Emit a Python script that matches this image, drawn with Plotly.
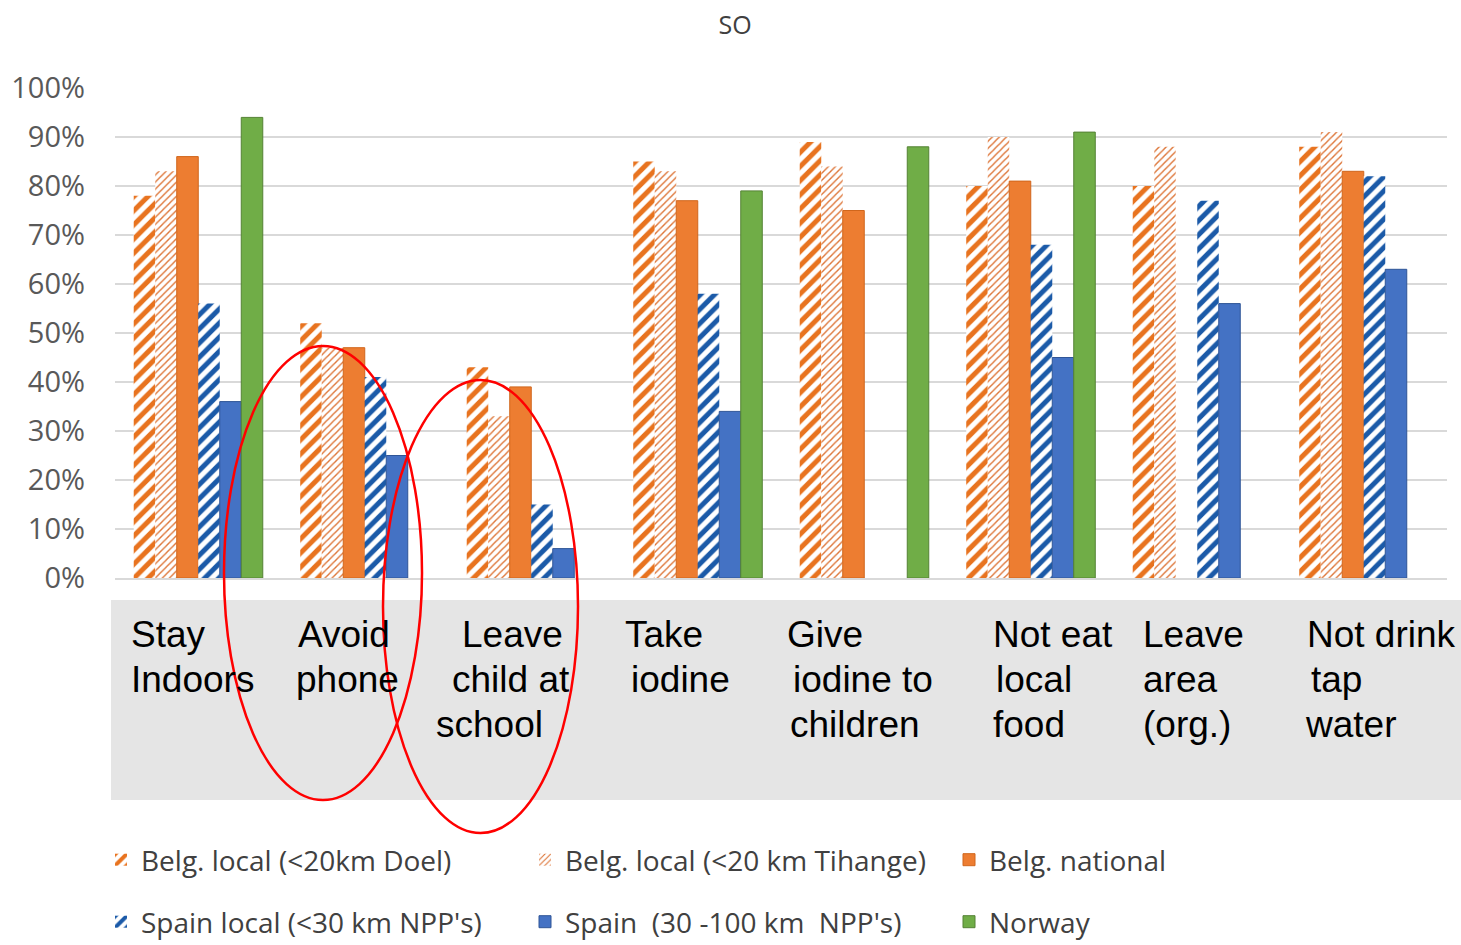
import plotly.graph_objects as go

# Category labels, broken into the lines shown under the axis
label_lines = [
    ["Stay", "Indoors"],
    ["Avoid", "phone"],
    ["Leave", "child at", "school"],
    ["Take", "iodine"],
    ["Give", "iodine to", "children"],
    ["Not eat", "local", "food"],
    ["Leave", "area", "(org.)"],
    ["Not drink", "tap", "water"],
]
categories = [" ".join(lines) for lines in label_lines]

# Share of respondents (%) per protective action
belg_doel = [78, 52, 43, 85, 89, 80, 80, 88]
belg_tihange = [83, 47, 33, 83, 84, 90, 88, 91]
belg_national = [86, 47, 39, 77, 75, 81, None, 83]
spain_local = [56, 41, 15, 58, None, 68, 77, 82]
spain_wide = [36, 25, 6, 34, None, 45, 56, 63]
norway = [94, None, None, 79, 88, 91, None, None]

series_names = [
    "Belg. local (<20km Doel)",
    "Belg. local (<20 km Tihange)",
    "Belg. national",
    "Spain local (<30 km NPP's)",
    "Spain  (30 -100 km  NPP's)",
    "Norway",
]
y_ticks = list(range(0, 101, 10))

# ---- page geometry (pixels) ----
W, H = 1461, 945
ML, MR, MT, MB = 115, 14, 88, 367
PW, PH = W - ML - MR, H - MT - MB


def px(x):
    return (x - ML) / PW


def py(y):
    return (H - MB - y) / PH


ORANGE = "#ED7D31"
BLUE = "#4472C4"
GREEN = "#70AD47"


def hatch(color, size, solidity):
    return dict(shape="/", fgcolor=color, fgopacity=1, bgcolor="white",
                size=size, solidity=solidity, fillmode="replace")


fig = go.Figure()

fig.add_trace(go.Bar(
    name=series_names[0], x=categories, y=belg_doel, legend="legend",
    marker=dict(color="#E8731F", line=dict(width=0),
                pattern=hatch("#E8731F", 10, 0.5)),
))
fig.add_trace(go.Bar(
    name=series_names[1], x=categories, y=belg_tihange, legend="legend",
    marker=dict(color="#DD7436", line=dict(width=0),
                pattern=hatch("#DD7436", 5, 0.28)),
))
fig.add_trace(go.Bar(
    name=series_names[2], x=categories, y=belg_national, legend="legend",
    marker=dict(color=ORANGE, line=dict(color="#D0661C", width=1)),
))
fig.add_trace(go.Bar(
    name=series_names[3], x=categories, y=spain_local, legend="legend2",
    marker=dict(color="#1B5AA8", line=dict(width=0),
                pattern=hatch("#1B5AA8", 10, 0.5)),
))
fig.add_trace(go.Bar(
    name=series_names[4], x=categories, y=spain_wide, legend="legend2",
    marker=dict(color=BLUE, line=dict(color="#2F5597", width=1)),
))
fig.add_trace(go.Bar(
    name=series_names[5], x=categories, y=norway, legend="legend2",
    marker=dict(color=GREEN, line=dict(color="#548235", width=1)),
))

# Grey band behind the category names
shapes = [dict(type="rect", xref="paper", yref="paper",
               x0=px(111), x1=px(1461), y0=py(600), y1=py(800),
               fillcolor="#E5E5E5", line=dict(width=0), layer="below")]

# Red ellipses highlighting two actions
for (x0, x1, y0, y1) in [(224, 422, 346, 800), (383, 578, 380, 833)]:
    shapes.append(dict(type="circle", xref="paper", yref="paper",
                       x0=px(x0), x1=px(x1), y0=py(y1), y1=py(y0),
                       line=dict(color="#FF0000", width=2.5),
                       fillcolor="rgba(0,0,0,0)", layer="above"))

# Left edge of each label line and the line centres
label_x = [[131, 131], [298, 296], [462, 452, 436], [625, 631],
           [787, 793, 790], [993, 996, 993], [1143, 1143, 1143],
           [1307, 1311, 1305]]
line_y = [634, 679, 724]

annotations = []
for lines, xs in zip(label_lines, label_x):
    for k, (txt, xl) in enumerate(zip(lines, xs)):
        annotations.append(dict(
            text=txt, xref="paper", yref="paper", x=px(xl - 2), y=py(line_y[k]),
            xanchor="left", yanchor="middle", showarrow=False,
            font=dict(family="Liberation Sans, Arial", size=37, color="#000000"),
        ))

legend_common = dict(
    orientation="h", xanchor="left", yanchor="middle", x=px(101),
    entrywidth=379, entrywidthmode="pixels",
    bgcolor="rgba(0,0,0,0)",
    font=dict(family="Open Sans", size=28, color="#404040"),
)

fig.update_layout(
    width=W, height=H,
    margin=dict(l=ML, r=MR, t=MT, b=MB, autoexpand=False),
    paper_bgcolor="white", plot_bgcolor="white",
    barmode="group", bargap=0.225, bargroupgap=0,
    title=dict(text="SO", x=px(735), xref="paper", xanchor="center",
               y=1 - 25 / H, yanchor="middle",
               font=dict(family="Open Sans", size=25, color="#404040")),
    xaxis=dict(showticklabels=False, showgrid=False, zeroline=False,
               showline=True, linecolor="#D9D9D9", linewidth=2, ticks=""),
    yaxis=dict(range=[0, 100], tickvals=y_ticks,
               ticktext=[f"{v}%" for v in y_ticks],
               showgrid=True, gridcolor="#D9D9D9", gridwidth=2,
               zeroline=False, showline=False, ticks="",
               ticklabelstandoff=29,
               tickfont=dict(family="Open Sans", size=29, color="#595959")),
    legend=dict(legend_common, y=py(860)),
    legend2=dict(legend_common, y=py(922)),
    shapes=shapes,
    annotations=annotations,
)

fig.write_html("out.html")
